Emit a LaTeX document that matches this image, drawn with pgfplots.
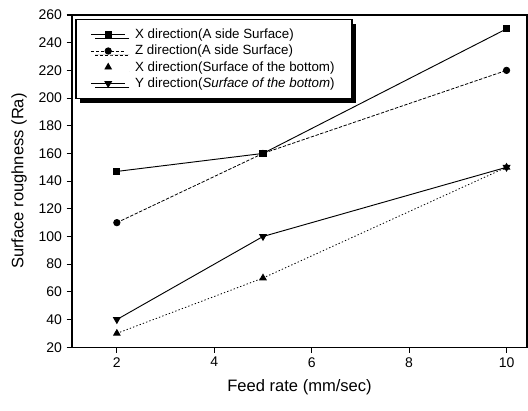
\documentclass[border=0pt]{standalone}
\usepackage{fontspec}
\setmainfont{Liberation Sans}
\usepackage{pgfplots}
\pgfplotsset{compat=1.18}
\usetikzlibrary{shadows}
\begin{document}
\begin{tikzpicture}
\begin{axis}[
  name=ax,
  scale only axis,
  width=341pt, height=249pt,
  xmin=1.08, xmax=10.42,
  ymin=20, ymax=260,
  xtick={2,4,6,8,10},
  ytick={20,40,...,260},
  tick align=outside,
  xtick pos=left, ytick pos=left,
  minor tick num=0,
  major tick length=4pt,
  axis line style={line width=0.9pt},
  tick style={line width=0.8pt, black},
  /pgf/number format/assume math mode=true,
  ticklabel style={font=\fontsize{10.5}{12}\selectfont},
  xlabel={Feed rate (mm/sec)},
  ylabel={Surface roughness (Ra)},
  label style={font=\fontsize{12.4}{14}\selectfont},
  xlabel style={yshift=-2pt},
  ylabel style={yshift=2pt},
  legend style={
    at={(rel axis cs:0,1)}, xshift=2.5pt, yshift=-3pt,
    anchor=north west,
    draw=black, line width=0.9pt,
    fill=white,
    drop shadow={shadow xshift=3pt, shadow yshift=-3pt, fill=black, opacity=1},
    font=\fontsize{10}{12}\selectfont,
    row sep=-0.6pt,
    inner xsep=11pt, inner ysep=5pt,
    legend cell align=left,
    /tikz/every odd column/.append style={column sep=5pt},
  },
  legend image code/.code={
    \draw[mark repeat=2,mark phase=2,#1] plot coordinates {(0cm,0cm) (0.45cm,0cm) (0.9cm,0cm)};
  },
]
\addplot[black, line width=0.7pt, mark=square*, mark size=2.3pt, mark options={solid}]
  coordinates {(2,147) (5,160) (10,250)};
\addlegendentry{X direction(A side Surface)}
\addplot[black, line width=0.6pt, dash pattern=on 2.5pt off 1.2pt, mark=*, mark size=2.4pt, mark options={solid}]
  coordinates {(2,110) (5,160) (10,220)};
\addlegendentry{Z direction(A side Surface)}
\addplot[black, line width=0.6pt, dash pattern=on 1pt off 1.6pt, mark=triangle*, mark size=2.8pt, mark options={solid}, forget plot]
  coordinates {(2,30) (5,70) (10,150)};
\addlegendimage{white, line width=0.6pt, mark=triangle*, mark size=2.8pt, mark options={solid, draw=black, fill=black}}
\addlegendentry{X direction(Surface of the bottom)}
\addplot[black, line width=0.7pt, mark=triangle*, mark size=2.8pt, mark options={solid, rotate=180}]
  coordinates {(2,40) (5,100) (10,150)};
\addlegendentry{Y direction(\textit{Surface of the bottom})}
\end{axis}
\pgfresetboundingbox
\path ([shift={(-54pt,-47.25pt)}]ax.south west) rectangle ([shift={(0.75pt,11.25pt)}]ax.north east);
\end{tikzpicture}
\end{document}
